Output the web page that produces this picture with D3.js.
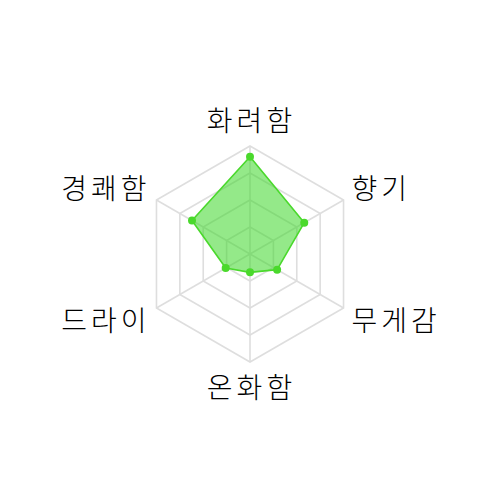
<!DOCTYPE html>
<html>
<head>
<meta charset="utf-8">
<script src="https://cdn.jsdelivr.net/npm/d3@7"></script>
<style>
    html, body { margin: 0; padding: 0; background: #fff; }
</style>
</head>
<body>
<div id="chart"></div>
<script>
// axes, clockwise from the top
const axes = ["화려함", "향기", "무게감", "온화함", "드라이", "경쾌함"];
const values = [90, 58, 29, 17, 26, 62];
const ringLevels = [25, 50, 75, 100];

const width = 500, height = 500;
const cx = 250, cy = 254, radius = 108;

let svg = d3.select("#chart")
    .append("svg")
    .attr("width", width)
    .attr("height", height);

let r = d3.scaleLinear().domain([0, 100]).range([0, radius]);
let angle = d3.scalePoint().domain(axes).range([0, 2 * Math.PI * (axes.length - 1) / axes.length]);

function point(name, v) {
    let a = angle(name);
    return [cx + r(v) * Math.sin(a), cy - r(v) * Math.cos(a)];
}

let line = d3.line().curve(d3.curveLinearClosed);

// grid rings
svg.append("g")
    .selectAll("path")
    .data(ringLevels).enter()
    .append("path")
    .attr("d", lvl => line(axes.map(n => point(n, lvl))))
    .attr("fill", "none")
    .attr("stroke", "#dedede")
    .attr("stroke-width", 1.6);

// spokes
svg.append("g")
    .selectAll("line")
    .data(axes).enter()
    .append("line")
    .attr("x1", cx).attr("y1", cy)
    .attr("x2", n => point(n, 100)[0])
    .attr("y2", n => point(n, 100)[1])
    .attr("stroke", "#dedede")
    .attr("stroke-width", 1.6);

// data area
let pts = axes.map((n, i) => point(n, values[i]));
svg.append("path")
    .attr("d", line(pts))
    .attr("fill", "rgba(60,215,40,0.55)")
    .attr("stroke", "#4ad92c")
    .attr("stroke-width", 1.6)
    .attr("stroke-linejoin", "round");

svg.append("g")
    .selectAll("circle")
    .data(pts).enter()
    .append("circle")
    .attr("cx", d => d[0])
    .attr("cy", d => d[1])
    .attr("r", 4)
    .attr("fill", "#4ad92c");

// axis labels, placed off the outer vertex of each spoke
svg.append("g")
    .selectAll("text")
    .data(axes).enter()
    .append("text")
    .text(d => d)
    .each(function(n) {
        let [vx, vy] = point(n, 100);
        let a = angle(n);
        let s = Math.sin(a), c = Math.cos(a);
        let x, y, anchor, dy;
        if (Math.abs(s) < 0.01) {
            anchor = "middle";
            x = vx + 1.5;
            y = c > 0 ? vy - 15 : vy + 36;
            dy = "0em";
        } else {
            anchor = s > 0 ? "start" : "end";
            x = s > 0 ? vx + 8 : vx - 6;
            y = c > 0 ? vy - 12 : vy + 12;
            dy = "0.38em";
        }
        d3.select(this)
            .attr("x", x)
            .attr("y", y)
            .attr("dy", dy)
            .attr("text-anchor", anchor);
    })
    .attr("font-family", "'Noto Sans CJK KR', sans-serif")
    .attr("font-size", 28)
    .attr("font-weight", 300)
    .attr("letter-spacing", 4)
    .attr("fill", "#000");
</script>
</body>
</html>
